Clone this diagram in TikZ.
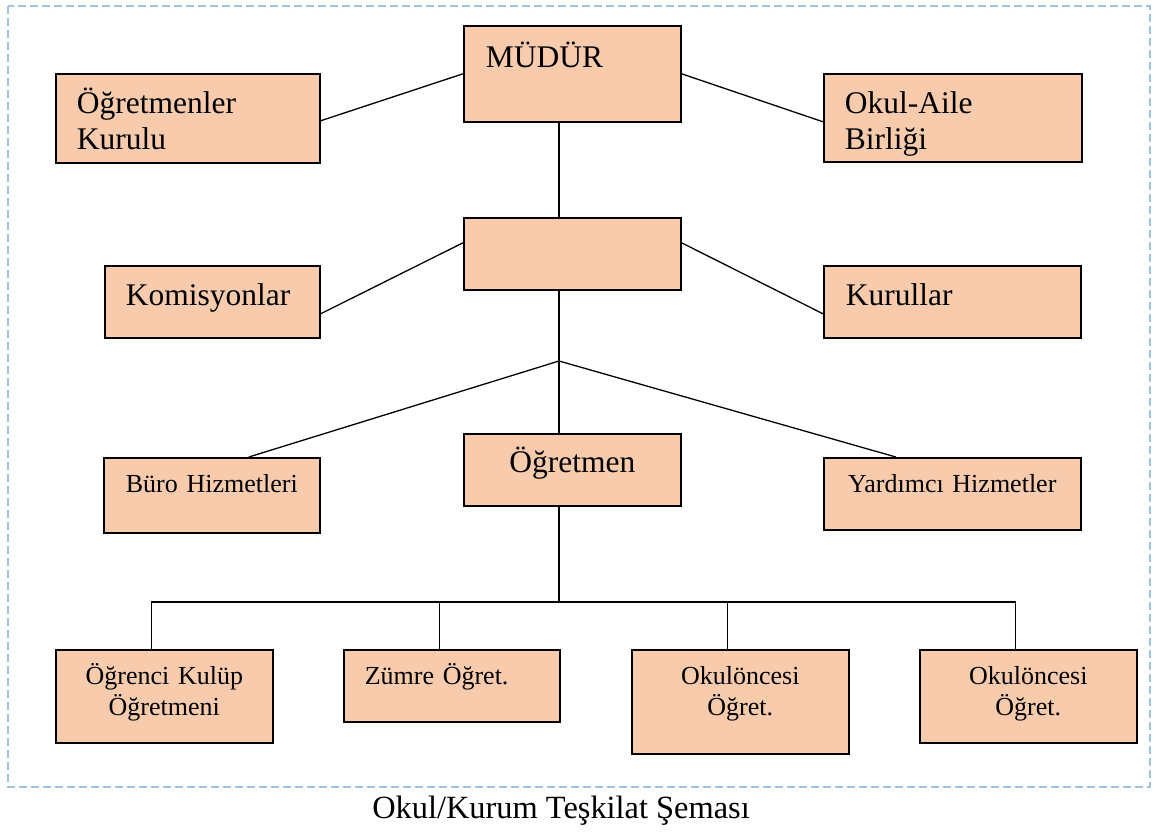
\documentclass[tikz,border=0pt]{standalone}
\usepackage{fontspec}
\setmainfont{Liberation Serif}
\definecolor{boxfill}{HTML}{F7CBAC}
\definecolor{framecol}{HTML}{9DC3E6}

\begin{document}
\begin{tikzpicture}[x=1pt, y=-1pt,
  box/.style={draw, line width=1.6pt, fill=boxfill, anchor=north west, inner ysep=0pt},
  big/.style={font=\fontsize{31.5}{36}\selectfont},
  small/.style={font=\fontsize{26}{31}\selectfont},
  link/.style={line width=1.3pt}]
\useasboundingbox (0,0) rectangle (1153,832);
\draw[framecol, line width=2pt, dash pattern=on 8pt off 4pt] (8,6) rectangle (1150,787);

% top row
\node[box, big, align=left, inner xsep=22pt, text width=173pt, text height=41.5pt, text depth=54.5pt] (mudur) at (463,25) {MÜDÜR};
\node[box, big, align=left, inner xsep=21pt, text width=222pt, text height=39.5pt, text depth=49.5pt] (kurulu) at (55,73) {Öğretmenler\\Kurulu};
\node[box, big, align=left, inner xsep=21pt, text width=216pt, text height=39.5pt, text depth=48.5pt] (aile) at (823,73) {Okul-Aile\\Birliği};

% second row
\node[box, inner sep=0pt, minimum width=217pt, minimum height=72pt] (mid) at (463,217) {};
\node[box, big, align=left, inner xsep=21pt, text width=173pt, text height=40pt, text depth=32pt] (komisyon) at (104,265) {Komisyonlar};
\node[box, big, align=left, inner xsep=22pt, text width=213pt, text height=40pt, text depth=32pt] (kurullar) at (823,265) {Kurullar};

% third row
\node[box, small, align=center, inner xsep=0pt, text width=216pt, text height=34.7pt, text depth=40.3pt] (buro) at (103,457) {Büro Hizmetleri};
\node[box, big, align=center, inner xsep=0pt, text width=217pt, text height=38.7pt, text depth=33.3pt] (ogretmen) at (463,433) {Öğretmen};
\node[box, small, align=center, inner xsep=0pt, text width=257pt, text height=34.7pt, text depth=37.3pt] (yardim) at (823,457) {Yardımcı Hizmetler};

% bottom row
\node[box, small, align=center, inner xsep=0pt, text width=217pt, text height=35pt, text depth=58pt] (kulup) at (55,649) {Öğrenci Kulüp\\Öğretmeni};
\node[box, small, align=left, inner xsep=21pt, text width=174pt, text height=35pt, text depth=37pt] (zumre) at (343,649) {Zümre Öğret.};
\node[box, small, align=center, inner xsep=0pt, text width=217pt, text height=35pt, text depth=69pt] (okul1) at (631,649) {Okulöncesi\\Öğret.};
\node[box, small, align=center, inner xsep=0pt, text width=217pt, text height=35pt, text depth=58pt] (okul2) at (919,649) {Okulöncesi\\Öğret.};

% connectors
\coordinate (split) at (559,361);
\coordinate (bus) at (559,602);
\draw[link] ([yshift=-2.5pt]kurulu.east) -- (mudur.west);
\draw[link] (mudur.east) -- ([yshift=-4pt]aile.west);
\draw[link] (mudur.south -| split) -- (mid.north -| split);
\draw[link] ([yshift=-12pt]komisyon.east) -- ([yshift=11pt]mid.west);
\draw[link] ([yshift=11pt]mid.east) -- ([yshift=-12pt]kurullar.west);
\draw[link] (mid.south -| split) -- (ogretmen.north -| split);
\draw[link] ([xshift=37pt]buro.north) -- (split) -- ([xshift=-56.5pt]yardim.north);
\draw[link] (ogretmen.south -| bus) -- (bus);
\foreach \n in {kulup,zumre,okul1,okul2}
  \draw[link] ([xshift=-12.5pt]\n.north) |- (bus);

\node[font=\fontsize{32.4}{38}\selectfont, anchor=base] (caption) at (561,818) {Okul/Kurum Teşkilat Şeması};
\end{tikzpicture}
\end{document}
